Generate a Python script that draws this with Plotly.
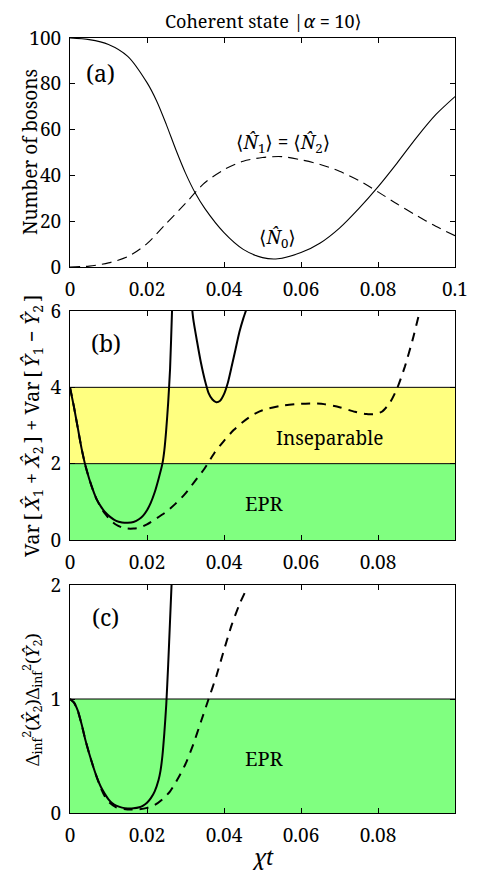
import plotly.graph_objects as go

# ---------------- data ----------------
# Panel (a): number of bosons
xa = [0, 0.005, 0.01, 0.015, 0.02, 0.0225, 0.025, 0.0275, 0.03, 0.0325, 0.035, 0.04, 0.045,
      0.05, 0.054, 0.06, 0.065, 0.07, 0.075, 0.08, 0.085, 0.09, 0.095, 0.1]
n0 = [100, 99.3, 97.2, 92, 80.5, 72.5, 62.3, 51.2, 41.0, 32.4, 25.6, 15, 7.7,
      4.1, 3.6, 6.3, 10.5, 17, 25.5, 35, 45.5, 56.5, 66.5, 74.4]
xa_n1 = [0, 0.005, 0.01, 0.015, 0.02, 0.025, 0.03, 0.035, 0.04, 0.045, 0.05, 0.055, 0.06,
         0.065, 0.07, 0.075, 0.08, 0.085, 0.09, 0.095, 0.1]
n1 = [0, 0.4, 1.8, 4.5, 10.2, 19, 27.8, 36.8, 42.5, 46.2, 47.8, 48.2, 46.8,
      44.8, 41.8, 37.8, 32.8, 27.5, 22.5, 17.8, 13.7]

# Panel (b): Var[X1+X2] + Var[Y1-Y2]
xb_solid = [0, 0.001, 0.002, 0.003, 0.004, 0.005, 0.006, 0.007, 0.008, 0.009, 0.0105, 0.012,
            0.0135, 0.015, 0.0165, 0.018, 0.019, 0.02, 0.021, 0.022, 0.023, 0.024, 0.0245,
            0.025, 0.0255, 0.026, 0.0265, 0.027, None,
            0.0312, 0.032, 0.033, 0.034, 0.035, 0.036, 0.037, 0.038, 0.039, 0.040, 0.041,
            0.042, 0.043, 0.044, 0.045, 0.046, 0.047]
yb_solid = [4.0, 3.5, 2.95, 2.4, 1.95, 1.6, 1.3, 1.05, 0.88, 0.74, 0.6, 0.5,
            0.46, 0.45, 0.47, 0.55, 0.64, 0.78, 0.98, 1.25, 1.6, 2.0, 2.35,
            2.9, 3.6, 4.5, 6.0, 7.5, None,
            6.6, 5.8, 5.2, 4.65, 4.2, 3.85, 3.68, 3.61, 3.65, 3.82, 4.12,
            4.55, 5.0, 5.45, 5.8, 6.1, 6.5]
xb_dash = [0, 0.001, 0.002, 0.003, 0.004, 0.005, 0.006, 0.007, 0.008, 0.009, 0.0105, 0.012,
           0.0135, 0.015, 0.0165, 0.018, 0.02, 0.0225, 0.025, 0.0275, 0.03, 0.0325, 0.035,
           0.0375, 0.04, 0.0425, 0.045, 0.0475, 0.05, 0.055, 0.06, 0.063, 0.066, 0.07,
           0.074, 0.077, 0.079, 0.081, 0.083, 0.085, 0.087, 0.089, 0.0905]
yb_dash = [4.0, 3.5, 2.95, 2.4, 1.95, 1.6, 1.3, 1.05, 0.86, 0.7, 0.52, 0.4,
           0.33, 0.3, 0.3, 0.32, 0.41, 0.57, 0.74, 0.96, 1.22, 1.55, 1.88,
           2.28, 2.6, 2.88, 3.1, 3.28, 3.4, 3.52, 3.57, 3.58, 3.56, 3.48,
           3.36, 3.3, 3.3, 3.36, 3.58, 3.98, 4.55, 5.25, 5.85]

# Panel (c): product of inferred variances
xc_solid = [0, 0.001, 0.002, 0.003, 0.004, 0.005, 0.006, 0.007, 0.008, 0.009, 0.01, 0.011,
            0.012, 0.0135, 0.015, 0.0165, 0.018, 0.019, 0.02, 0.021, 0.022, 0.023, 0.0235,
            0.024, 0.0245, 0.025, 0.0255, 0.026, 0.0265, 0.027]
yc_solid = [1.0, 0.97, 0.9, 0.78, 0.64, 0.52, 0.41, 0.31, 0.23, 0.17, 0.12, 0.085,
            0.064, 0.047, 0.04, 0.041, 0.05, 0.065, 0.09, 0.13, 0.19, 0.29, 0.37,
            0.5, 0.7, 0.95, 1.3, 1.7, 2.1, 2.5]
xc_dash = [0, 0.001, 0.002, 0.003, 0.004, 0.005, 0.006, 0.007, 0.008, 0.009, 0.01, 0.012,
           0.014, 0.016, 0.018, 0.02, 0.022, 0.024, 0.026, 0.028, 0.03, 0.032, 0.034,
           0.036, 0.038, 0.04, 0.042, 0.044, 0.0455]
yc_dash = [1.0, 0.97, 0.9, 0.78, 0.64, 0.52, 0.41, 0.31, 0.22, 0.15, 0.1, 0.05,
           0.035, 0.03, 0.033, 0.045, 0.07, 0.12, 0.19, 0.3, 0.43, 0.6, 0.8,
           1.0, 1.2, 1.43, 1.65, 1.83, 1.94]

xticks_a = [0, 0.02, 0.04, 0.06, 0.08, 0.1]
xticklabels_a = ["0", "0.02", "0.04", "0.06", "0.08", "0.1"]
xticks_bc = [0, 0.02, 0.04, 0.06, 0.08]
xticklabels_bc = ["0", "0.02", "0.04", "0.06", "0.08"]
yticks_a = [0, 20, 40, 60, 80, 100]
yticks_b = [0, 2, 4, 6]
yticks_c = [0, 1, 2]

# ---------------- layout helpers ----------------
# the page body adds an 8px offset; the figure is sized to fill the rest of the window
OFF = 8
W, H = 480 - OFF, 873 - OFF
FONT = "Noto Serif, DejaVu Serif, serif"


def px(x):
    return (x - OFF) / W


def py(y):
    return 1 - (y - OFF) / H


xdom = [px(70), px(455)]
ydom_a = [py(267), py(38)]
ydom_b = [py(540), py(311)]
ydom_c = [py(813), py(585)]

fig = go.Figure()

# panel (a)
fig.add_trace(go.Scatter(x=xa, y=n0, mode="lines", line=dict(color="black", width=1.1, shape="spline", smoothing=0.8),
                         xaxis="x", yaxis="y", showlegend=False))
fig.add_trace(go.Scatter(x=xa_n1, y=n1, mode="lines",
                         line=dict(color="black", width=1.1, dash="10px,6px", shape="spline", smoothing=0.8),
                         xaxis="x", yaxis="y", showlegend=False))
# panel (b)
fig.add_trace(go.Scatter(x=xb_solid, y=yb_solid, mode="lines", connectgaps=False,
                         line=dict(color="black", width=2, shape="spline", smoothing=0.6),
                         xaxis="x2", yaxis="y2", showlegend=False))
fig.add_trace(go.Scatter(x=xb_dash, y=yb_dash, mode="lines",
                         line=dict(color="black", width=2, dash="9px,7px", shape="spline", smoothing=0.6),
                         xaxis="x2", yaxis="y2", showlegend=False))
# panel (c)
fig.add_trace(go.Scatter(x=xc_solid, y=yc_solid, mode="lines",
                         line=dict(color="black", width=2, shape="spline", smoothing=0.6),
                         xaxis="x3", yaxis="y3", showlegend=False))
fig.add_trace(go.Scatter(x=xc_dash, y=yc_dash, mode="lines",
                         line=dict(color="black", width=2, dash="9px,7px", shape="spline", smoothing=0.6),
                         xaxis="x3", yaxis="y3", showlegend=False))

GREEN = "rgb(128,255,128)"
YELLOW = "rgb(255,255,128)"
shapes = [
    dict(type="rect", xref="x2", yref="y2", x0=0, x1=0.1, y0=0, y1=2, fillcolor=GREEN, line=dict(width=0), layer="below"),
    dict(type="rect", xref="x2", yref="y2", x0=0, x1=0.1, y0=2, y1=4, fillcolor=YELLOW, line=dict(width=0), layer="below"),
    dict(type="line", xref="x2", yref="y2", x0=0, x1=0.1, y0=2, y1=2, line=dict(color="black", width=1), layer="below"),
    dict(type="line", xref="x2", yref="y2", x0=0, x1=0.1, y0=4, y1=4, line=dict(color="black", width=1), layer="below"),
    dict(type="rect", xref="x3", yref="y3", x0=0, x1=0.1, y0=0, y1=1, fillcolor=GREEN, line=dict(width=0), layer="below"),
    dict(type="line", xref="x3", yref="y3", x0=0, x1=0.1, y0=1, y1=1, line=dict(color="black", width=1), layer="below"),
]

axis_common = dict(showline=True, linecolor="black", linewidth=1, mirror="ticks", ticks="inside",
                   ticklen=5, tickwidth=1, tickcolor="black", showgrid=False, zeroline=False,
                   automargin=False,
                   tickfont=dict(family=FONT, size=19, color="black"))

fig.update_layout(
    template="none",
    width=W, height=H,
    margin=dict(l=0, r=0, t=0, b=0, pad=0),
    paper_bgcolor="white", plot_bgcolor="white",
    font=dict(family=FONT, color="black"),
    shapes=shapes,
    xaxis=dict(domain=xdom, range=[0, 0.1], tickvals=xticks_a, ticktext=xticklabels_a, anchor="y",
               ticklabelstandoff=5, **axis_common),
    yaxis=dict(domain=ydom_a, range=[0, 100], tickvals=yticks_a, anchor="x", ticklabelstandoff=4, **axis_common),
    xaxis2=dict(domain=xdom, range=[0, 0.1], tickvals=xticks_bc, ticktext=xticklabels_bc, anchor="y2",
                ticklabelstandoff=5, **axis_common),
    yaxis2=dict(domain=ydom_b, range=[0, 6], tickvals=yticks_b, anchor="x2", ticklabelstandoff=4, **axis_common),
    xaxis3=dict(domain=xdom, range=[0, 0.1], tickvals=xticks_bc, ticktext=xticklabels_bc, anchor="y3",
                ticklabelstandoff=5, **axis_common),
    yaxis3=dict(domain=ydom_c, range=[0, 2], tickvals=yticks_c, anchor="x3", ticklabelstandoff=4, **axis_common),
)


def ann(text, x, y, size, angle=0, yanchor="middle"):
    fig.add_annotation(text=text, x=px(x), y=py(y), xref="paper", yref="paper", showarrow=False,
                       xanchor="center", yanchor=yanchor, textangle=angle, borderpad=0,
                       font=dict(family=FONT, size=size, color="black"))


ann("Coherent state |<i>α</i> = 10⟩", 263, 8, 18, yanchor="top")
ann("(a)", 100, 73, 23)
ann("(b)", 106, 343, 23)
ann("(c)", 105, 617, 23)
ann("⟨<i>N̂</i><sub>1</sub>⟩ = ⟨<i>N̂</i><sub>2</sub>⟩", 283, 143, 19)
ann("⟨<i>N̂</i><sub>0</sub>⟩", 277, 238, 19)
ann("Inseparable", 329, 438, 19)
ann("EPR", 264, 503, 20)
ann("EPR", 264, 758, 20)
ann("<i>χt</i>", 263, 857, 21)
ann("Number of bosons", 30, 152, 19, -90)
ann("Var\u2009[\u2009<i>X̂</i><sub>1</sub> + <i>X̂</i><sub>2</sub>\u2009] + Var\u2009[\u2009<i>Ŷ</i><sub>1</sub> − <i>Ŷ</i><sub>2</sub>\u2009]",
    32, 426, 20, -90)
ann("Δ<sub>inf</sub><sup>2</sup>(<i>X̂</i><sub>2</sub>)Δ<sub>inf</sub><sup>2</sup>(<i>Ŷ</i><sub>2</sub>)", 32, 700, 18, -90)

fig.write_html("out.html")
